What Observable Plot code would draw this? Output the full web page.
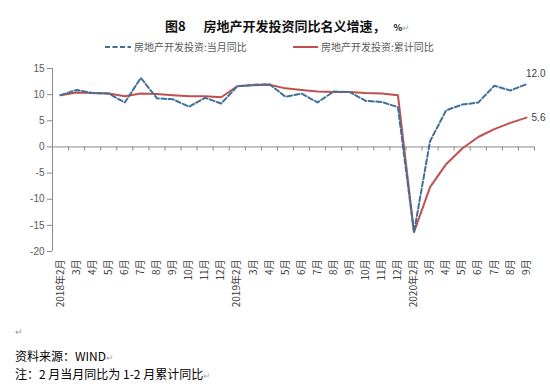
<!DOCTYPE html>
<html>
<head>
<meta charset="utf-8">
<script src="https://cdn.jsdelivr.net/npm/d3@7"></script>
<script src="https://cdn.jsdelivr.net/npm/@observablehq/plot@0.6"></script>
<style>
  html, body { margin: 0; padding: 0; background: #fff; width: 550px; height: 386px; overflow: hidden; }
  body { position: relative; font-family: "Noto Sans CJK SC", "Noto Sans", sans-serif; }
  .abs { position: absolute; white-space: nowrap; }
  #title { left: 165px; top: 16px; font-size: 13px; font-weight: bold; color: #111; line-height: 20px; }
  #title .pct { font-size: 9px; margin-left: 8px; }
  .pm { color: #aaa; font-weight: normal; font-size: 9px; }
  .leg { top: 40px; font-size: 10px; color: #595959; line-height: 14px; display: flex; align-items: center; }
  .leg svg { margin-right: 3px; }
  #chart { left: 0; top: 60px; }
  .foot { left: 15px; font-size: 12px; color: #000; line-height: 17px; height: 17px; }
</style>
</head>
<body>
<div id="title" class="abs">图8&nbsp;&nbsp;&nbsp;&nbsp;&nbsp;&nbsp;房地产开发投资同比名义增速，<span class="pct">%</span><span class="pm">↵</span></div>
<div class="abs leg" style="left:105px"><svg width="26" height="4"><line x1="0" y1="2" x2="26" y2="2" stroke="#40709A" stroke-width="2" stroke-dasharray="5,2.5"/></svg><span id="leg1"></span></div>
<div class="abs leg" style="left:293px"><svg width="25" height="4"><line x1="0" y1="2" x2="25" y2="2" stroke="#C0504D" stroke-width="2"/></svg><span id="leg2"></span></div>
<div id="chart" class="abs"></div>
<div class="abs foot" style="top:326px; color:#999; font-size:9px; line-height:12px; height:12px;">↵</div>
<div class="abs foot" style="top:347px;">资料来源：WIND<span class="pm">↵</span></div>
<div class="abs foot" style="top:365px;">注：2 月当月同比为 1-2 月累计同比<span class="pm">↵</span></div>
<script>
const months = [
  "2018年2月","3月","4月","5月","6月","7月","8月","9月","10月","11月","12月",
  "2019年2月","3月","4月","5月","6月","7月","8月","9月","10月","11月","12月",
  "2020年2月","3月","4月","5月","6月","7月","8月","9月"
];
const monthly = [
  9.9,10.9,10.3,10.2,8.5,13.2,9.3,9.1,7.7,9.4,8.3,
  11.6,11.9,12.0,9.6,10.2,8.5,10.6,10.5,8.8,8.6,7.6,
  -16.3,1.1,7.0,8.1,8.5,11.7,10.8,12.0
];
const cumulative = [
  9.9,10.4,10.3,10.2,9.7,10.2,10.1,9.9,9.7,9.7,9.5,
  11.6,11.8,11.9,11.2,10.9,10.6,10.5,10.5,10.3,10.2,9.9,
  -16.3,-7.7,-3.3,-0.3,1.9,3.4,4.6,5.6
];
const seriesNames = ["房地产开发投资:当月同比", "房地产开发投资:累计同比"];
const yTicks = [15, 10, 5, 0, -5, -10, -15, -20];

document.getElementById("leg1").textContent = seriesNames[0];
document.getElementById("leg2").textContent = seriesNames[1];

const idx = months.map((_, i) => i);
const rowsM = idx.map(i => ({i, v: monthly[i]}));
const rowsC = idx.map(i => ({i, v: cumulative[i]}));
const boundaries = idx.map(i => i + 0.5);
const last = months.length - 1;

const chart = Plot.plot({
  width: 550,
  height: 250,
  marginLeft: 52,
  marginRight: 16,
  marginTop: 8,
  marginBottom: 59,
  style: {fontFamily: "Liberation Sans, Noto Sans CJK SC, sans-serif", fontSize: "10px", background: "#fff"},
  x: {type: "linear", domain: [-0.5, months.length - 0.5], axis: null},
  y: {domain: [-20, 15], axis: null},
  marks: [
    Plot.axisY({ticks: yTicks, tickSize: 5, tickPadding: 3, label: null, stroke: "#8c8c8c", fill: "#595959", fontSize: 10, tickFormat: d => String(d)}),
    Plot.axisX({ticks: idx, tickFormat: i => months[i], tickRotate: -90, tickSize: 0, tickPadding: 8, label: null, fill: "#404040", fontSize: 10, fontFamily: "Noto Sans CJK SC, sans-serif"}),
    Plot.ruleX([-0.5], {y1: -20, y2: 15, stroke: "#8c8c8c"}),
    Plot.ruleY([0], {x1: -0.5, x2: months.length - 0.5, stroke: "#8c8c8c"}),
    Plot.ruleX(boundaries, {y1: 0, y2: -0.8, stroke: "#8c8c8c"}),
    Plot.lineY(rowsC, {x: "i", y: "v", stroke: "#C0504D", strokeWidth: 2}),
    Plot.lineY(rowsM, {x: "i", y: "v", stroke: "#40709A", strokeWidth: 2, strokeDasharray: "5,2.5"}),
    Plot.text([rowsM[last]], {x: "i", y: "v", text: d => d.v.toFixed(1), textAnchor: "end", dx: 19, dy: -10, fill: "#404040", fontSize: 10}),
    Plot.text([rowsC[last]], {x: "i", y: "v", text: d => d.v.toFixed(1), textAnchor: "end", dx: 19, dy: 0, fill: "#404040", fontSize: 10})
  ]
});
document.getElementById("chart").appendChild(chart);
</script>
</body>
</html>
